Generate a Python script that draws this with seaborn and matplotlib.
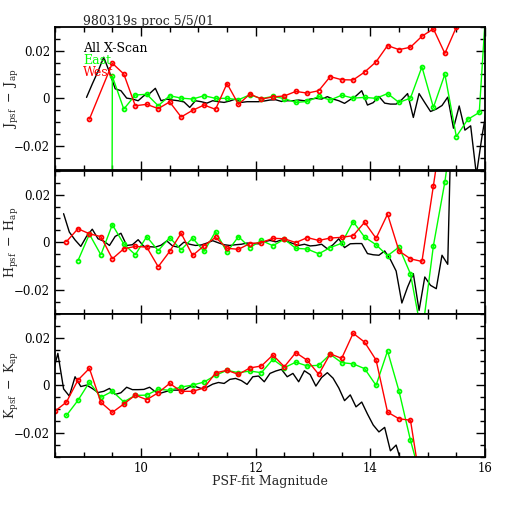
import numpy as np
import pandas as pd
import matplotlib
matplotlib.use("Agg")
import matplotlib.pyplot as plt
import seaborn as sns
from matplotlib.ticker import MultipleLocator, FuncFormatter

# ---------------- data ----------------
TITLE = "980319s proc 5/5/01"
LEGEND_LABELS = ["All X-Scan", "East", "West"]
XLABEL = "PSF-fit Magnitude"
YLABELS = [r"$\mathrm{J_{psf}\ -\ J_{ap}}$",
           r"$\mathrm{H_{psf}\ -\ H_{ap}}$",
           r"$\mathrm{K_{psf}\ -\ K_{ap}}$"]
X_TICKS = [10, 12, 14, 16]

# J band
J_ALL_START = 9.05
J_ALL = [0.0004, 0.0060, 0.0113, 0.0172, 0.0110, 0.0040, 0.0032, 0.0001, -0.0003, -0.0010,
         0.0011, 0.0020, 0.0042, -0.0010, -0.0003, -0.0007, -0.0010, -0.0015, -0.0038, -0.0010,
         -0.0014, -0.0020, -0.0010, -0.0014, -0.0017, -0.0011, -0.0003, -0.0017, -0.0014, -0.0014,
         -0.0014, -0.0011, -0.0007, -0.0006, -0.0013, -0.0010, -0.0010, -0.0007, -0.0010, -0.0003,
         0.0000, -0.0003, 0.0007, -0.0003, -0.0010, -0.0021, -0.0005, 0.0010, 0.0032, -0.0028,
         -0.0018, 0.0008, -0.0020, -0.0024, -0.0024, -0.0005, 0.0020, -0.0080, 0.0020, -0.0018,
         -0.0055, -0.0045, -0.0030, 0.0005, -0.0125, -0.0032, -0.0133, -0.0115, -0.0320, -0.0155,
         -0.0014]
J_EAST_X = [9.3, 9.5, 9.7, 9.9, 10.1, 10.3, 10.5, 10.7, 10.9, 11.1, 11.3, 11.5, 11.7, 11.9,
            12.1, 12.3, 12.5, 12.7, 12.9, 13.1, 13.3, 13.5, 13.7, 13.9, 14.1, 14.3, 14.5, 14.7,
            14.9, 15.1, 15.3, 15.5, 15.7, 15.9, 16.1]
J_EAST = [-2.0, 0.0092, -0.0045, 0.0014, 0.0017, -0.0031, 0.0011, 0.0001, -0.0003, 0.0011,
          0.0000, 0.0000, -0.0006, 0.0015, -0.0001, 0.0008, -0.0001, -0.0017, -0.0013, 0.0008,
          -0.0007, 0.0013, 0.0001, 0.0004, 0.0000, 0.0020, -0.0017, 0.0001, 0.0132, -0.0038,
          0.0101, -0.0160, -0.0088, -0.0059, 0.0700]
J_WEST_X = [9.1, 9.5, 9.7, 9.9, 10.1, 10.3, 10.5, 10.7, 10.9, 11.1, 11.3, 11.5, 11.7, 11.9,
            12.1, 12.3, 12.5, 12.7, 12.9, 13.1, 13.3, 13.5, 13.7, 13.9, 14.1, 14.3, 14.5, 14.7,
            14.9, 15.1, 15.3, 15.5, 15.7]
J_WEST = [-0.0087, 0.0147, 0.0102, -0.0031, -0.0025, -0.0043, -0.0015, -0.0078, -0.0050, -0.0028,
          -0.0046, 0.0062, -0.0025, 0.0018, -0.0003, 0.0006, 0.0010, 0.0029, 0.0022, 0.0032,
          0.0091, 0.0078, 0.0077, 0.0110, 0.0153, 0.0221, 0.0204, 0.0214, 0.0260, 0.0291,
          0.0188, 0.0298, 0.0370]

# H band
H_ALL_START = 8.65
H_ALL = [0.0120, 0.0043, 0.0010, -0.0017, 0.0025, 0.0055, 0.0015, 0.0005, -0.0013, 0.0025,
         0.0038, -0.0013, -0.0010, 0.0011, -0.0017, -0.0018, -0.0020, -0.0012, 0.0006, -0.0015,
         -0.0020, 0.0001, -0.0008, -0.0013, -0.0011, -0.0003, 0.0007, -0.0002, -0.0010, -0.0013,
         -0.0010, -0.0008, -0.0003, -0.0005, -0.0006, 0.0003, 0.0008, 0.0002, 0.0010, 0.0004,
         -0.0005, -0.0013, -0.0008, -0.0015, -0.0013, -0.0008, -0.0027, -0.0010, 0.0015, -0.0022,
         -0.0006, -0.0005, -0.0005, -0.0047, -0.0052, -0.0054, -0.0036, -0.0072, -0.0120, -0.0254,
         -0.0187, -0.0131, -0.0285, -0.0145, -0.0180, -0.0194, -0.0054, -0.0092, 0.0900]
H_EAST_X = [8.9, 9.1, 9.3, 9.5, 9.7, 9.9, 10.1, 10.3, 10.5, 10.7, 10.9, 11.1, 11.3, 11.5, 11.7,
            11.9, 12.1, 12.3, 12.5, 12.7, 12.9, 13.1, 13.3, 13.5, 13.7, 13.9, 14.1, 14.3, 14.5,
            14.7, 14.9, 15.1, 15.3, 15.5]
H_EAST = [-0.0077, 0.0034, -0.0052, 0.0074, -0.0007, -0.0052, 0.0024, -0.0035, 0.0020, -0.0031,
          0.0018, -0.0038, 0.0045, -0.0041, 0.0024, -0.0022, 0.0008, -0.0014, 0.0013, -0.0025,
          -0.0028, -0.0048, -0.0022, -0.0004, 0.0087, 0.0022, -0.0010, -0.0056, -0.0020, -0.0132,
          -0.0390, -0.0014, 0.0253, 0.0600]
H_WEST_X = [8.7, 8.9, 9.1, 9.3, 9.5, 9.7, 9.9, 10.1, 10.3, 10.5, 10.7, 10.9, 11.1, 11.3, 11.5,
            11.7, 11.9, 12.1, 12.3, 12.5, 12.7, 12.9, 13.1, 13.3, 13.5, 13.7, 13.9, 14.1, 14.3,
            14.5, 14.7, 14.9, 15.1, 15.3]
H_WEST = [0.0003, 0.0057, 0.0036, 0.0024, -0.0069, -0.0027, -0.0017, -0.0020, -0.0102, -0.0038,
          0.0038, -0.0055, -0.0014, 0.0021, -0.0025, -0.0029, -0.0005, -0.0001, 0.0017, 0.0015,
          -0.0001, 0.0020, 0.0008, 0.0018, 0.0021, 0.0028, 0.0084, 0.0017, 0.0118, -0.0036,
          -0.0069, -0.0080, 0.0237, 0.0560]

# K band
K_ALL_START = 8.45
K_ALL = [0.0040, 0.0134, -0.0015, -0.0045, 0.0036, -0.0005, 0.0001, -0.0013, -0.0030, -0.0025,
         -0.0013, -0.0038, -0.0031, -0.0008, -0.0018, -0.0018, -0.0017, -0.0008, -0.0027, -0.0032,
         -0.0025, -0.0020, -0.0020, -0.0020, -0.0006, -0.0005, -0.0013, -0.0008, 0.0005, 0.0012,
         0.0008, 0.0025, 0.0029, 0.0020, 0.0004, 0.0036, 0.0039, 0.0015, 0.0050, 0.0060,
         0.0067, 0.0036, 0.0050, 0.0015, 0.0061, 0.0045, -0.0003, 0.0033, 0.0053, 0.0030,
         -0.0011, -0.0064, -0.0040, -0.0090, -0.0070, -0.0120, -0.0166, -0.0195, -0.0176, -0.0274,
         -0.0250, -0.0330]
K_EAST_X = [8.7, 8.9, 9.1, 9.3, 9.5, 9.7, 9.9, 10.1, 10.3, 10.5, 10.7, 10.9, 11.1, 11.3, 11.5,
            11.7, 11.9, 12.1, 12.3, 12.5, 12.7, 12.9, 13.1, 13.3, 13.5, 13.7, 13.9, 14.1, 14.3,
            14.5, 14.7, 14.9]
K_EAST = [-0.0126, -0.0063, 0.0013, -0.0050, -0.0025, -0.0069, -0.0042, -0.0041, -0.0016, -0.0021,
          -0.0007, 0.0001, 0.0014, 0.0042, 0.0063, 0.0053, 0.0060, 0.0053, 0.0109, 0.0074,
          0.0097, 0.0081, 0.0084, 0.0130, 0.0095, 0.0090, 0.0070, 0.0000, 0.0144, -0.0024,
          -0.0230, -0.0405]
K_WEST_X = [8.5, 8.7, 8.9, 9.1, 9.3, 9.5, 9.7, 9.9, 10.1, 10.3, 10.5, 10.7, 10.9, 11.1, 11.3,
            11.5, 11.7, 11.9, 12.1, 12.3, 12.5, 12.7, 12.9, 13.1, 13.3, 13.5, 13.7, 13.9, 14.1,
            14.3, 14.5, 14.7, 14.9]
K_WEST = [-0.0108, -0.0070, 0.0022, 0.0071, -0.0071, -0.0113, -0.0078, -0.0041, -0.0060, -0.0031,
          0.0008, -0.0025, -0.0025, -0.0011, 0.0052, 0.0063, 0.0046, 0.0073, 0.0081, 0.0127,
          0.0078, 0.0137, 0.0105, 0.0046, 0.0132, 0.0113, 0.0218, 0.0181, 0.0106, -0.0112,
          -0.0140, -0.0146, -0.0450]

ALL_STEP = 0.1

# ---------------- style ----------------
sns.set_style("ticks")
plt.rcParams["font.family"] = ["DejaVu Serif"]
plt.rcParams["mathtext.fontset"] = "dejavuserif"

BLACK, GREEN, RED = "#000000", "#00ff00", "#ff0000"

fig = plt.figure(figsize=(5.12, 5.12), dpi=100)
L, W, H = 55 / 512, 430 / 512, 143.3 / 512
bottoms = [1 - 170 / 512, 1 - 314 / 512, 1 - 457 / 512]

panels = [
    (J_ALL_START, J_ALL, J_EAST_X, J_EAST, J_WEST_X, J_WEST),
    (H_ALL_START, H_ALL, H_EAST_X, H_EAST, H_WEST_X, H_WEST),
    (K_ALL_START, K_ALL, K_EAST_X, K_EAST, K_WEST_X, K_WEST),
]


def yfmt(v, p):
    if abs(v) < 1e-9:
        return "0"
    return f"{v:.2f}".replace("-", "\u2212")


for i, (a0, ay, ex, ey, wx, wy) in enumerate(panels):
    ax = fig.add_axes([L, bottoms[i], W, H])
    ax_x = np.round(a0 + ALL_STEP * np.arange(len(ay)), 2)
    df_all = pd.DataFrame({"mag": ax_x, "d": ay})
    df_e = pd.DataFrame({"mag": ex, "d": ey})
    df_w = pd.DataFrame({"mag": wx, "d": wy})
    sns.lineplot(data=df_all, x="mag", y="d", ax=ax, color=BLACK, lw=1.0,
                 estimator=None, sort=False)
    sns.lineplot(data=df_e, x="mag", y="d", ax=ax, color=GREEN, lw=1.0,
                 marker="o", ms=2.8, mfc="none", mec=GREEN, mew=1.3,
                 estimator=None, sort=False)
    sns.lineplot(data=df_w, x="mag", y="d", ax=ax, color=RED, lw=1.0,
                 marker="o", ms=2.8, mfc="none", mec=RED, mew=1.3,
                 estimator=None, sort=False)
    ax.set_xlim(8.5, 16)
    ax.set_ylim(-0.03, 0.03)
    ax.xaxis.set_major_locator(MultipleLocator(2))
    ax.xaxis.set_minor_locator(MultipleLocator(0.5))
    ax.yaxis.set_major_locator(MultipleLocator(0.02))
    ax.yaxis.set_minor_locator(MultipleLocator(0.005))
    ax.yaxis.set_major_formatter(FuncFormatter(yfmt))
    ax.tick_params(which="both", direction="in", top=True, right=True,
                   width=1.0, colors="black", labelsize=8.5)
    ax.tick_params(which="major", length=6.5)
    ax.tick_params(which="minor", length=3.5)
    ax.set_xlabel("")
    ax.set_ylabel("")
    for s in ax.spines.values():
        s.set_linewidth(1.3)
        s.set_color("black")
    if i < 2:
        ax.tick_params(labelbottom=False)
    else:
        ax.set_xticks(X_TICKS)
        ax.set_xticklabels([str(t) for t in X_TICKS])
        ax.set_xlim(8.5, 16)
    fig.text(0.024, bottoms[i] + H / 2, YLABELS[i], rotation=90,
             ha="center", va="center", fontsize=9)

fig.text(83 / 512, 1 - 21 / 512, TITLE, ha="left", va="center", fontsize=9)
for lab, col, yy in zip(LEGEND_LABELS, [BLACK, GREEN, RED], [48, 61, 73]):
    fig.text(83 / 512, 1 - yy / 512, lab, color=col, ha="left", va="center", fontsize=9)
fig.text(L + W / 2, 1 - 482 / 512, XLABEL, ha="center", va="center", fontsize=9)

fig.savefig("out.png", dpi=100)
